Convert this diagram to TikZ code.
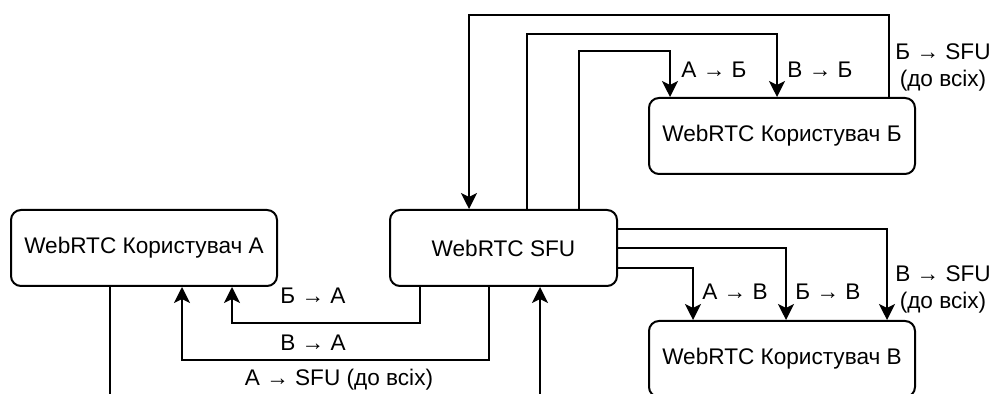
\documentclass[tikz,border=0pt]{standalone}
\usepackage{fontspec}
\setmainfont{Liberation Sans}
\usetikzlibrary{arrows.meta}
\begin{document}
\begin{tikzpicture}[x=0.5pt,y=-0.5pt,line width=1pt,
  txt/.style={font=\fontsize{11.3}{13.5}\selectfont},
  box/.style={txt,draw,rounded corners=5pt,minimum height=38pt,inner sep=0pt},
  lbl/.style={txt,inner sep=0pt,align=center},
  arr/.style={-{Stealth[length=8pt,width=8pt,inset=2pt]}}]
\useasboundingbox (0,0) rectangle (994,394);
\clip (0,0) rectangle (994,394);
% boxes
\node[box,minimum width=133pt] (a) at (144,248) {WebRTC Користувач А};
\node[box,minimum width=113.5pt] (sfu) at (503.5,248) {WebRTC SFU};
\node[box,minimum width=133pt] (b) at (782,136) {WebRTC Користувач Б};
\node[box,minimum width=133pt] (v) at (782,359) {WebRTC Користувач В};
\coordinate (aout) at (110,400);
\coordinate (sfuin) at (540,400);
% top connectors
\draw[arr] (b.north -| 889,0) -- (889,15) -| (sfu.north -| 469,0);
\draw[arr] (sfu.north -| 527,0) -- (527,34) -| (b.north -| 777,0);
\draw[arr] (sfu.north -| 579,0) -- (579,51) -| (b.north -| 670,0);
% right connectors
\draw[arr] (sfu.east |- 0,229) -| (v.north -| 887,0);
\draw[arr] (sfu.east |- 0,248) -| (v.north -| 786,0);
\draw[arr] (sfu.east |- 0,268) -| (v.north -| 693,0);
% bottom connectors
\draw[arr] (sfu.south -| 420,0) -- (420,323) -| (a.south -| 232,0);
\draw[arr] (sfu.south -| 489,0) -- (489,360) -| (a.south -| 182,0);
\draw (a.south -| aout) -- (aout);
\draw[arr] (sfuin) -- (sfu.south -| sfuin);
% labels
\node[lbl] (l1) at (313,296) {Б → А};
\node[lbl] (l2) at (313,343) {В → А};
\node[lbl] (l3) at (339,380) {А → SFU (до всіх)};
\node[lbl] (l4) at (714,70) {А → Б};
\node[lbl] (l5) at (820,70) {В → Б};
\node[lbl] (l6) at (943,67) {Б → SFU\\(до всіх)};
\node[lbl] (l7) at (735,292) {А → В};
\node[lbl] (l8) at (828,292) {Б → В};
\node[lbl] (l9) at (943,289) {В → SFU\\(до всіх)};
\end{tikzpicture}
\end{document}
